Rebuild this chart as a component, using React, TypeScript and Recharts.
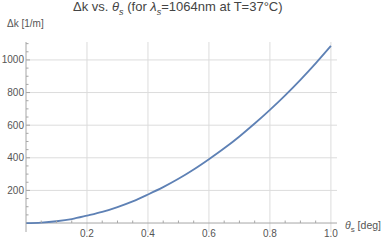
import { LineChart, Line, XAxis, YAxis, ReferenceLine } from "recharts";

// θs in degrees and Δk in 1/m
const thetaS = [0, 0.05, 0.1, 0.15, 0.2, 0.25, 0.3, 0.35, 0.4, 0.45, 0.5, 0.55, 0.6, 0.65, 0.7, 0.75, 0.8, 0.85, 0.9, 0.95, 1.0];
const deltaK = [0, 3, 11, 24, 45, 68, 98, 133, 175, 220, 271, 328, 391, 458, 531, 610, 694, 783, 878, 979, 1086];

const xTicks = [0.05, 0.1, 0.15, 0.2, 0.25, 0.3, 0.35, 0.4, 0.45, 0.5, 0.55, 0.6, 0.65, 0.7, 0.75, 0.8, 0.85, 0.9, 0.95, 1.0];
const xMajor = [0.2, 0.4, 0.6, 0.8, 1.0];
const yTicks = [50, 100, 150, 200, 250, 300, 350, 400, 450, 500, 550, 600, 650, 700, 750, 800, 850, 900, 950, 1000, 1050, 1100];
const yMajor = [200, 400, 600, 800, 1000];

const data = thetaS.map((t, i) => ({ t, dk: deltaK[i] }));

const W = 389;
const H = 242;
const MARGIN = { top: 42, right: 52, bottom: 0, left: 0 };
const Y_AXIS_W = 26;
const X_AXIS_H = 10;
const Y_MIN = -55;
const Y_MAX = 1110;
const X_MAX = 1.02;

const AXIS = "#a6a6a6";
const GRID = "#dcdcdc";
const TEXT = "#555";
const FONT = "'Liberation Sans', Arial, sans-serif";

// pixel row of Δk = 0 (the x axis sits there, not at the plot bottom)
const plotH = H - MARGIN.top - MARGIN.bottom - X_AXIS_H;
const zeroY = MARGIN.top + (Y_MAX / (Y_MAX - Y_MIN)) * plotH;

const isMajor = (v: number, list: number[]) => list.some((m) => Math.abs(m - v) < 1e-6);

function XTick(props: any) {
  const { x, payload } = props;
  const v = payload.value as number;
  const major = isMajor(v, xMajor);
  return (
    <g>
      {!major && <line x1={x} x2={x} y1={zeroY} y2={zeroY - 2.5} stroke={AXIS} />}
      {major && (
        <text x={x} y={zeroY + 14} textAnchor="middle" fontSize={10} fill={TEXT} fontFamily={FONT}>
          {v.toFixed(1)}
        </text>
      )}
    </g>
  );
}

function YTick(props: any) {
  const { x, y, payload } = props;
  const v = payload.value as number;
  const major = isMajor(v, yMajor);
  return (
    <g>
      <line x1={x} x2={x + (major ? 4 : 2.5)} y1={y} y2={y} stroke={AXIS} />
      {major && (
        <text x={x - 2} y={y + 3.5} textAnchor="end" fontSize={10} fill={TEXT} fontFamily={FONT}>
          {v}
        </text>
      )}
    </g>
  );
}

export default function App() {
  return (
    <div style={{ position: "absolute", left: 0, top: 0, width: W, height: H, background: "#fff", fontFamily: FONT }}>
      <div style={{ position: "absolute", left: 73, top: -1, fontSize: 13, color: "#444", whiteSpace: "nowrap" }}>
        Δk vs. <i>θ</i><sub style={{ fontSize: 9 }}><i>s</i></sub> (for <i>λ</i>
        <sub style={{ fontSize: 9 }}><i>s</i></sub>=1064nm at T=37°C)
      </div>
      <div style={{ position: "absolute", left: 7, top: 18, fontSize: 10, color: TEXT, whiteSpace: "nowrap" }}>
        Δk [1/m]
      </div>
      <div style={{ position: "absolute", left: 345, top: 219, fontSize: 10.5, color: TEXT, whiteSpace: "nowrap" }}>
        <i>θ</i><sub style={{ fontSize: 8 }}>s</sub> [deg]
      </div>
      <LineChart width={W} height={H} data={data} margin={MARGIN}>
        <XAxis
          dataKey="t"
          type="number"
          domain={[0, X_MAX]}
          ticks={xTicks}
          height={X_AXIS_H}
          axisLine={false}
          tickLine={false}
          tickSize={0}
          tickMargin={0}
          tick={<XTick />}
          interval={0}
        />
        <YAxis
          type="number"
          domain={[Y_MIN, Y_MAX]}
          ticks={yTicks}
          width={Y_AXIS_W}
          axisLine={{ stroke: AXIS }}
          tickLine={false}
          tickSize={0}
          tickMargin={0}
          tick={<YTick />}
          interval={0}
        />
        {yMajor.map((v) => (
          <ReferenceLine key={"h" + v} y={v} stroke={GRID} strokeWidth={1} />
        ))}
        {xMajor.map((v) => (
          <ReferenceLine key={"v" + v} x={v} stroke={GRID} strokeWidth={1} />
        ))}
        <ReferenceLine y={0} stroke={AXIS} />
        <Line
          type="monotone"
          dataKey="dk"
          stroke="#5e81b5"
          strokeWidth={1.8}
          dot={false}
          isAnimationActive={false}
        />
      </LineChart>
    </div>
  );
}
